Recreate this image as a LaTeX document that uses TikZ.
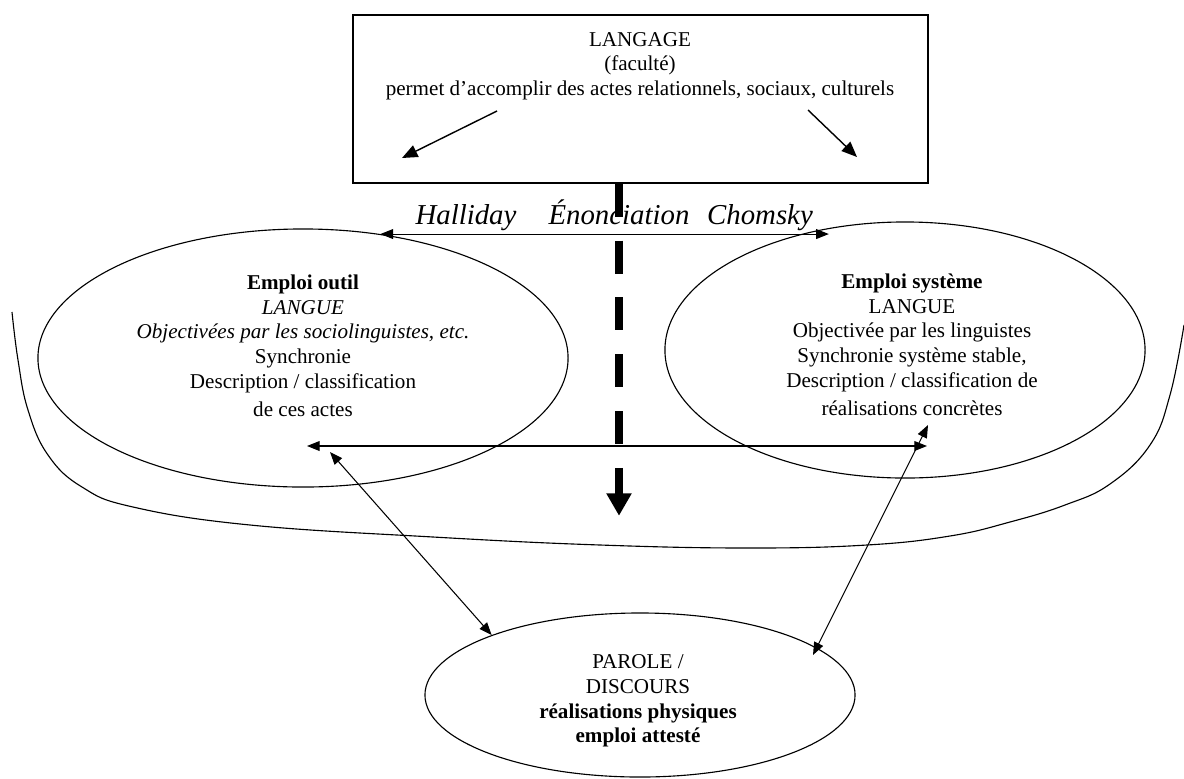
\documentclass[tikz,border=0pt]{standalone}
\usepackage{fontspec}
\setmainfont{Liberation Serif}
\usetikzlibrary{shapes.geometric, arrows.meta, calc}

\begin{document}
\begin{tikzpicture}[
    x=0.025cm, y=-0.025cm,
    boxframe/.style={draw, line width=1.1pt, minimum width=14.375cm, minimum height=4.2cm, inner sep=0pt},
    bubble/.style={draw, ellipse, line width=0.8pt, inner sep=0pt},
    txt/.style={align=center, font=\fontsize{15}{17.5}\selectfont, inner sep=0pt},
    who/.style={font=\fontsize{20.5}{24}\selectfont\itshape, anchor=base, inner sep=0pt},
    dbl/.style={{Triangle[length=9pt, width=7pt]}-{Triangle[length=9pt, width=7pt]}, line width=0.75pt},
    inarrow/.style={-{Triangle[length=11pt, width=9pt]}, line width=1pt},
    bigdash/.style={-{Triangle[length=16pt, width=17pt]}, line width=5.5pt, dash pattern=on 23.4pt off 17pt}
]
    \useasboundingbox (0,0) rectangle (1184,778);

    % Faculty box
    \node[boxframe] (langage) at (640.5,99) {};
    \node[txt] (langagetxt) at (640,66) {LANGAGE\\(faculté)\\permet d’accomplir des actes relationnels, sociaux, culturels};
    \draw[inarrow] ($(langage.center)+(-143.5,12)$) -- ($(langage.center)+(-238.5,59)$);
    \draw[inarrow] ($(langage.center)+(167.5,11)$) -- ($(langage.center)+(216.5,58)$);

    % Names
    \node[who] (halliday) at (466,224) {Halliday};
    \node[who] (enonc) at (619,224) {Énonciation};
    \node[who] (chomsky) at (760,224) {Chomsky};

    % Ellipses
    \node[bubble, minimum width=13.25cm, minimum height=6.45cm] (outil) at (303,358) {};
    \node[txt] (outiltxt) at (303,346) {\textbf{Emploi outil}\\\textit{LANGUE}\\\textit{Objectivées par les sociolinguistes, etc.}\\Synchronie\\Description / classification\\[3pt]de ces actes};

    \node[bubble, minimum width=12cm, minimum height=6.4cm] (systeme) at (905,350) {};
    \node[txt] (systemetxt) at (912,345) {\textbf{Emploi système}\\LANGUE\\Objectivée par les linguistes\\Synchronie système stable,\\Description / classification de\\[3pt]réalisations concrètes};

    \node[bubble, minimum width=10.75cm, minimum height=4.1cm] (parole) at (640,695) {};
    \node[txt] (paroletxt) at (638,701) {PAROLE /\\DISCOURS\\\textbf{réalisations physiques}\\\textbf{emploi attesté}};

    % Frontier
    \draw[line width=0.8pt] plot[smooth, tension=0.7] coordinates {(12,312) (18,360) (28,410) (48,455) (82,487) (133,507) (250,525) (433,537) (600,545) (750,548) (867,545) (950,536) (1010,522) (1065,505) (1110,484) (1150,445) (1170,395) (1184,325)};

    % Links
    \draw[dbl] (outil.58) -- (outil.58 -| systeme.122);
    \draw[dbl] ($(outil.center)+(4,88)$) -- ($(systeme.center)+(22,96)$);
    \draw[dbl] ($(outil.center)+(27,94)$) -- (parole.158);
    \draw[dbl] ($(systeme.center)+(23,75)$) -- ($(parole.center)+(173,-40)$);

    % Dashed arrow
    \draw[bigdash] (langage.south -| enonc) -- ++(0,332);

\end{tikzpicture}
\end{document}
